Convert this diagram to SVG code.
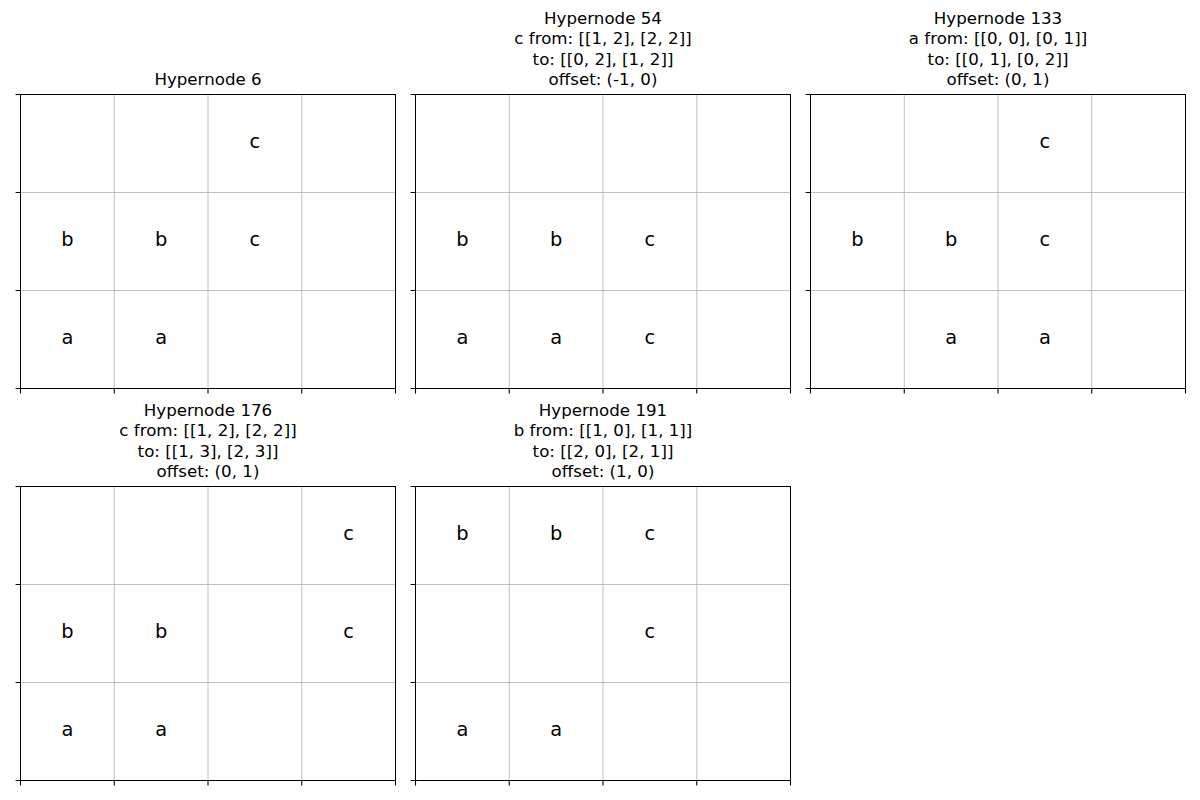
<svg xmlns="http://www.w3.org/2000/svg" xmlns:xlink="http://www.w3.org/1999/xlink" width="1200" height="800" viewBox="0 0 1200 800">
<style>
.grid{stroke:#b0b0b0;stroke-width:0.8;fill:none}
.spine{stroke:#000;stroke-width:1;fill:none}
.tick{stroke:#000;stroke-width:1.1}
.cell{font-family:"DejaVu Sans",sans-serif;font-size:19.4px;fill:#000;text-anchor:middle}
.title{font-family:"DejaVu Sans",sans-serif;font-size:16.67px;fill:#000;text-anchor:middle}
</style>
<defs>
<g id="frame">
<path class="grid" d="M93.75,0V294M187.5,0V294M281.25,0V294M0,98H375M0,196H375"/>
<rect class="spine" x="0" y="0" width="375" height="294"/>
<path class="tick" d="M0,0H-4.9M0,98H-4.9M0,196H-4.9M0,294H-4.9M0,294V298.9M93.75,294V298.9M187.5,294V298.9M281.25,294V298.9M375,294V298.9"/>
</g>
</defs>
<rect width="1200" height="800" fill="#fff"/>

<g id="hypernode6" transform="translate(20.5,94.5)">
<use xlink:href="#frame"/>
<text class="title" x="187.5" y="-9.5">Hypernode 6</text>
<text class="cell" x="234.4" y="53.5">c</text>
<text class="cell" x="46.9" y="151.5">b</text>
<text class="cell" x="140.6" y="151.5">b</text>
<text class="cell" x="234.4" y="151.5">c</text>
<text class="cell" x="46.9" y="249.5">a</text>
<text class="cell" x="140.6" y="249.5">a</text>
</g>

<g id="hypernode54" transform="translate(415.5,94.5)">
<use xlink:href="#frame"/>
<text class="title" x="187.5" y="-71">Hypernode 54</text>
<text class="title" x="187.5" y="-50.5">c from: [[1, 2], [2, 2]]</text>
<text class="title" x="187.5" y="-30">to: [[0, 2], [1, 2]]</text>
<text class="title" x="187.5" y="-9.5">offset: (-1, 0)</text>
<text class="cell" x="46.9" y="151.5">b</text>
<text class="cell" x="140.6" y="151.5">b</text>
<text class="cell" x="234.4" y="151.5">c</text>
<text class="cell" x="46.9" y="249.5">a</text>
<text class="cell" x="140.6" y="249.5">a</text>
<text class="cell" x="234.4" y="249.5">c</text>
</g>

<g id="hypernode133" transform="translate(810.5,94.5)">
<use xlink:href="#frame"/>
<text class="title" x="187.5" y="-71">Hypernode 133</text>
<text class="title" x="187.5" y="-50.5">a from: [[0, 0], [0, 1]]</text>
<text class="title" x="187.5" y="-30">to: [[0, 1], [0, 2]]</text>
<text class="title" x="187.5" y="-9.5">offset: (0, 1)</text>
<text class="cell" x="234.4" y="53.5">c</text>
<text class="cell" x="46.9" y="151.5">b</text>
<text class="cell" x="140.6" y="151.5">b</text>
<text class="cell" x="234.4" y="151.5">c</text>
<text class="cell" x="140.6" y="249.5">a</text>
<text class="cell" x="234.4" y="249.5">a</text>
</g>

<g id="hypernode176" transform="translate(20.5,486.5)">
<use xlink:href="#frame"/>
<text class="title" x="187.5" y="-71">Hypernode 176</text>
<text class="title" x="187.5" y="-50.5">c from: [[1, 2], [2, 2]]</text>
<text class="title" x="187.5" y="-30">to: [[1, 3], [2, 3]]</text>
<text class="title" x="187.5" y="-9.5">offset: (0, 1)</text>
<text class="cell" x="328.1" y="53.5">c</text>
<text class="cell" x="46.9" y="151.5">b</text>
<text class="cell" x="140.6" y="151.5">b</text>
<text class="cell" x="328.1" y="151.5">c</text>
<text class="cell" x="46.9" y="249.5">a</text>
<text class="cell" x="140.6" y="249.5">a</text>
</g>

<g id="hypernode191" transform="translate(415.5,486.5)">
<use xlink:href="#frame"/>
<text class="title" x="187.5" y="-71">Hypernode 191</text>
<text class="title" x="187.5" y="-50.5">b from: [[1, 0], [1, 1]]</text>
<text class="title" x="187.5" y="-30">to: [[2, 0], [2, 1]]</text>
<text class="title" x="187.5" y="-9.5">offset: (1, 0)</text>
<text class="cell" x="46.9" y="53.5">b</text>
<text class="cell" x="140.6" y="53.5">b</text>
<text class="cell" x="234.4" y="53.5">c</text>
<text class="cell" x="234.4" y="151.5">c</text>
<text class="cell" x="46.9" y="249.5">a</text>
<text class="cell" x="140.6" y="249.5">a</text>
</g>

<g id="connectors"></g>
</svg>
